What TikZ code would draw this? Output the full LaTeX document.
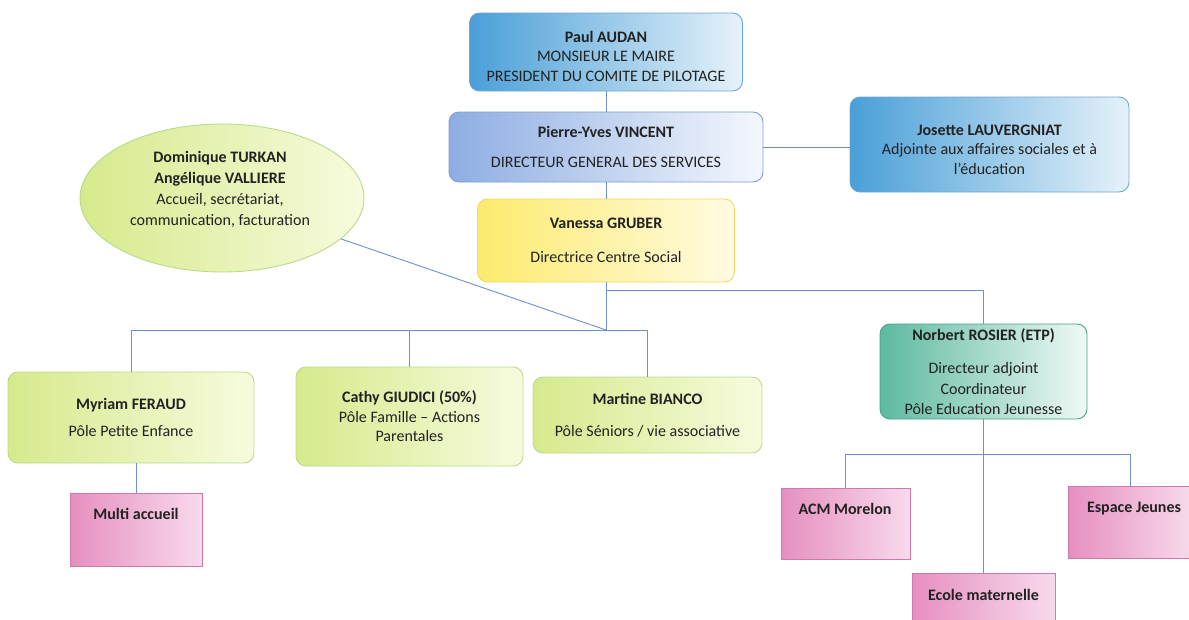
\documentclass[tikz,border=0pt]{standalone}
\usepackage{fontspec}
\setmainfont{Carlito}
\usetikzlibrary{shapes.geometric}
\definecolor{txt}{HTML}{222222}
\definecolor{conn}{HTML}{6E8FD0}
\definecolor{blueL}{HTML}{4A9FD7}
\definecolor{blueR}{HTML}{E6F2FA}
\definecolor{blueD}{HTML}{6FA6D2}
\definecolor{lavL}{HTML}{8DADE2}
\definecolor{lavR}{HTML}{F5F8FD}
\definecolor{lavD}{HTML}{7E9DD4}
\definecolor{yelL}{HTML}{FDEB6E}
\definecolor{yelR}{HTML}{FFFBE2}
\definecolor{yelD}{HTML}{EFD86A}
\definecolor{grnL}{HTML}{D6EA8C}
\definecolor{grnR}{HTML}{F7FBDE}
\definecolor{grnD}{HTML}{BCD98A}
\definecolor{tealL}{HTML}{5DB9A0}
\definecolor{tealR}{HTML}{F0F9F6}
\definecolor{tealD}{HTML}{44A587}
\definecolor{pnkL}{HTML}{E68FC0}
\definecolor{pnkR}{HTML}{F8DAEC}
\definecolor{pnkD}{HTML}{CF78AA}
\begin{document}
\begin{tikzpicture}[x=1pt,y=-1pt,
  every node/.style={text=txt, font=\fontsize{16}{19.5}\selectfont},
  box/.style={draw, rounded corners=10pt, line width=0.9pt, align=center, inner sep=0pt},
  bluebox/.style={box, draw=blueD, left color=blueL, right color=blueR},
  lavbox/.style={box, draw=lavD, left color=lavL, right color=lavR},
  yelbox/.style={box, draw=yelD, left color=yelL, right color=yelR},
  grnbox/.style={box, draw=grnD, left color=grnL, right color=grnR},
  tealbox/.style={box, draw=tealD, left color=tealL, right color=tealR},
  pnkbox/.style={draw=pnkD, line width=0.9pt, left color=pnkL, right color=pnkR, inner sep=0pt},
  lbl/.style={align=center, inner sep=0pt},
  link/.style={draw=conn, line width=0.9pt}]
\useasboundingbox (0,0) rectangle (1189,619);

% nodes
\node[bluebox, minimum width=273pt, minimum height=78pt] (paul) at (606,52) {};
\node[lbl] (pault) at (606,56)
  {\textbf{Paul AUDAN}\\MONSIEUR LE MAIRE\\PRESIDENT DU COMITE DE PILOTAGE};
\node[lavbox, minimum width=314pt, minimum height=70pt] (pierre) at (606,147)
  {\textbf{Pierre-Yves VINCENT}\\[10.5pt]DIRECTEUR GENERAL DES SERVICES};
\node[bluebox, minimum width=279pt, minimum height=95pt] (josette) at (989.5,144.5) {};
\node[lbl] (josettet) at (989.5,149.5)
  {\textbf{Josette LAUVERGNIAT}\\Adjointe aux affaires sociales et à\\l’éducation};
\node[yelbox, minimum width=257pt, minimum height=83pt] (vanessa) at (606,240.5)
  {\textbf{Vanessa GRUBER}\\[14pt]Directrice Centre Social};
\node[ellipse, draw=grnD, line width=0.9pt, left color=grnL, right color=grnR,
  minimum width=284pt, minimum height=148pt] (ell) at (222,198) {};
\node[lbl, font=\fontsize{16}{21}\selectfont] (ellt) at (220,189)
  {\textbf{Dominique TURKAN}\\\textbf{Angélique VALLIERE}\\Accueil, secrétariat,\\communication, facturation};
\node[grnbox, minimum width=246pt, minimum height=91pt] (myriam) at (131,417.5)
  {\textbf{Myriam FERAUD}\\[8pt]Pôle Petite Enfance};
\node[grnbox, minimum width=227pt, minimum height=99pt] (cathy) at (409.5,416.5)
  {\textbf{Cathy GIUDICI (50\%)}\\Pôle Famille – Actions\\Parentales};
\node[grnbox, minimum width=229pt, minimum height=76pt] (martine) at (647.5,415)
  {\textbf{Martine BIANCO}\\[12pt]Pôle Séniors / vie associative};
\node[tealbox, minimum width=207pt, minimum height=95pt] (norbert) at (983.5,371.5)
  {\textbf{Norbert ROSIER (ETP)}\\[13pt]Directeur adjoint\\[2pt]Coordinateur\\Pôle Education Jeunesse};
\node[pnkbox, minimum width=132pt, minimum height=73pt] (multi) at (136,529.5) {};
\node[lbl] (multit) at (136,514) {\textbf{Multi accueil}};
\node[pnkbox, minimum width=129pt, minimum height=71pt] (acm) at (845.5,523.5) {};
\node[lbl] (acmt) at (845,509) {\textbf{ACM Morelon}};
\node[pnkbox, minimum width=124pt, minimum height=72pt] (espace) at (1130,522) {};
\node[lbl] (espacet) at (1134,509) {\textbf{Espace Jeunes}};
\node[pnkbox, minimum width=143pt, minimum height=72pt] (ecole) at (983.5,609) {};
\node[lbl] (ecolet) at (983.5,595) {\textbf{Ecole maternelle}};

% junctions
\coordinate (j1) at (606,330);
\coordinate (j2) at (606,290);
\coordinate (j3) at (983.5,454);

% connectors
\path[link] (paul.south) -- (pierre.north);
\path[link] (pierre.south) -- (vanessa.north);
\path[link] (pierre.east) -- (pierre.east -| josette.west);
\path[link] (vanessa.south) -- (j1);
\path[link] (j2) -| (norbert.north);
\path[link] (ell) -- (j1);
\path[link] (j1) -| (myriam.north);
\path[link] (j1) -| (martine.north);
\path[link] (cathy.north |- j1) -- (cathy.north);
\path[link] (multi.north |- myriam.south) -- (multi.north);
\path[link] (norbert.south) -- (ecole.north);
\path[link] (j3) -| (acm.north);
\path[link] (j3) -| (espace.north);
\end{tikzpicture}
\end{document}
